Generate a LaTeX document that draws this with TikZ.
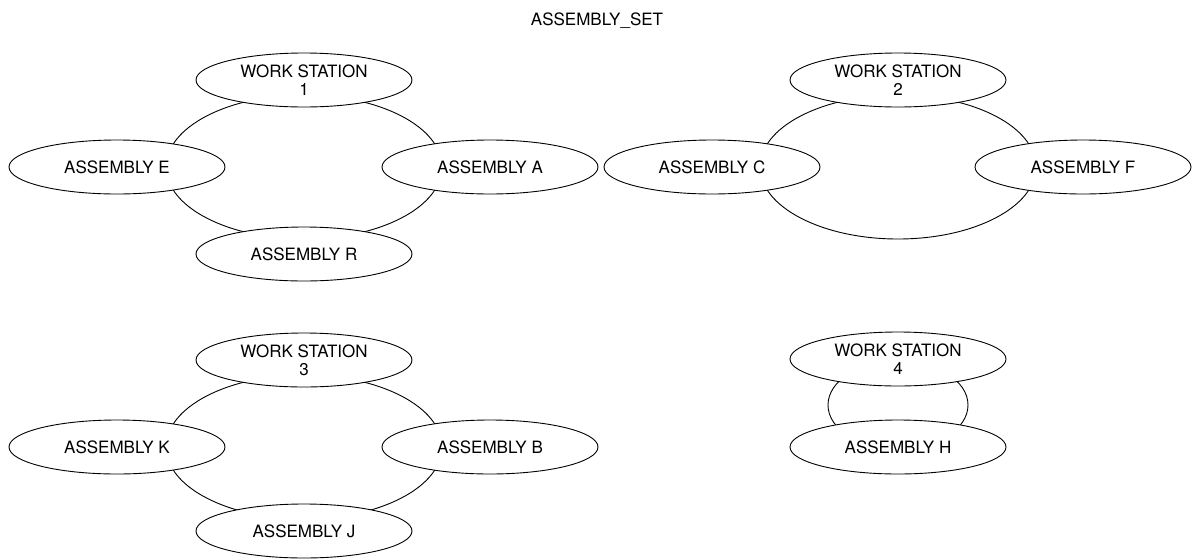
\documentclass[tikz,border=0pt]{standalone}
\usepackage{fontspec}
\setmainfont{TeX Gyre Heros}
\usetikzlibrary{shapes.geometric}
\begin{document}
\begin{tikzpicture}[x=1pt, y=-1pt, font=\fontsize{17}{18}\selectfont, line join=round, line cap=round,
		part/.style={ellipse, draw, fill=white, line width=0.9pt, inner sep=0pt, minimum width=216pt, minimum height=54pt, align=center},
		ring/.style={draw, line width=0.9pt}]
				\useasboundingbox[fill=white] (0,0) rectangle (1195,558);
				
				\coordinate (R1) at (304,167);
				\coordinate (R2) at (898,167);
				\coordinate (R3) at (304,447);
				\coordinate (R4) at (898,405);
				
				% rings behind the ellipses
				\foreach \r in {R1,R2,R3} { \draw[ring] (\r) ellipse [x radius=138pt, y radius=72pt]; }
				\draw[ring] (R4) ellipse [x radius=70pt, y radius=44pt];
				
				\node (title) at (597,21) {ASSEMBLY\_SET};
				
				\node[part] (ws1) at (304,80) {WORK STATION\\1};
				\node[part] (asmE) at (117,167) {ASSEMBLY E};
				\node[part] (asmA) at (490,167) {ASSEMBLY A};
				\node[part] (asmR) at (304,254) {ASSEMBLY R};
				
				\node[part] (ws2) at (898,80) {WORK STATION\\2};
				\node[part] (asmC) at (712,167) {ASSEMBLY C};
				\node[part] (asmF) at (1083,167) {ASSEMBLY F};
				
				\node[part] (ws3) at (304,360) {WORK STATION\\3};
				\node[part] (asmK) at (117,447) {ASSEMBLY K};
				\node[part] (asmB) at (490,447) {ASSEMBLY B};
				\node[part] (asmJ) at (304,531) {ASSEMBLY J};
				
				\node[part] (ws4) at (898,359) {WORK STATION\\4};
				\node[part] (asmH) at (898,447) {ASSEMBLY H};
		\end{tikzpicture}
\end{document}
